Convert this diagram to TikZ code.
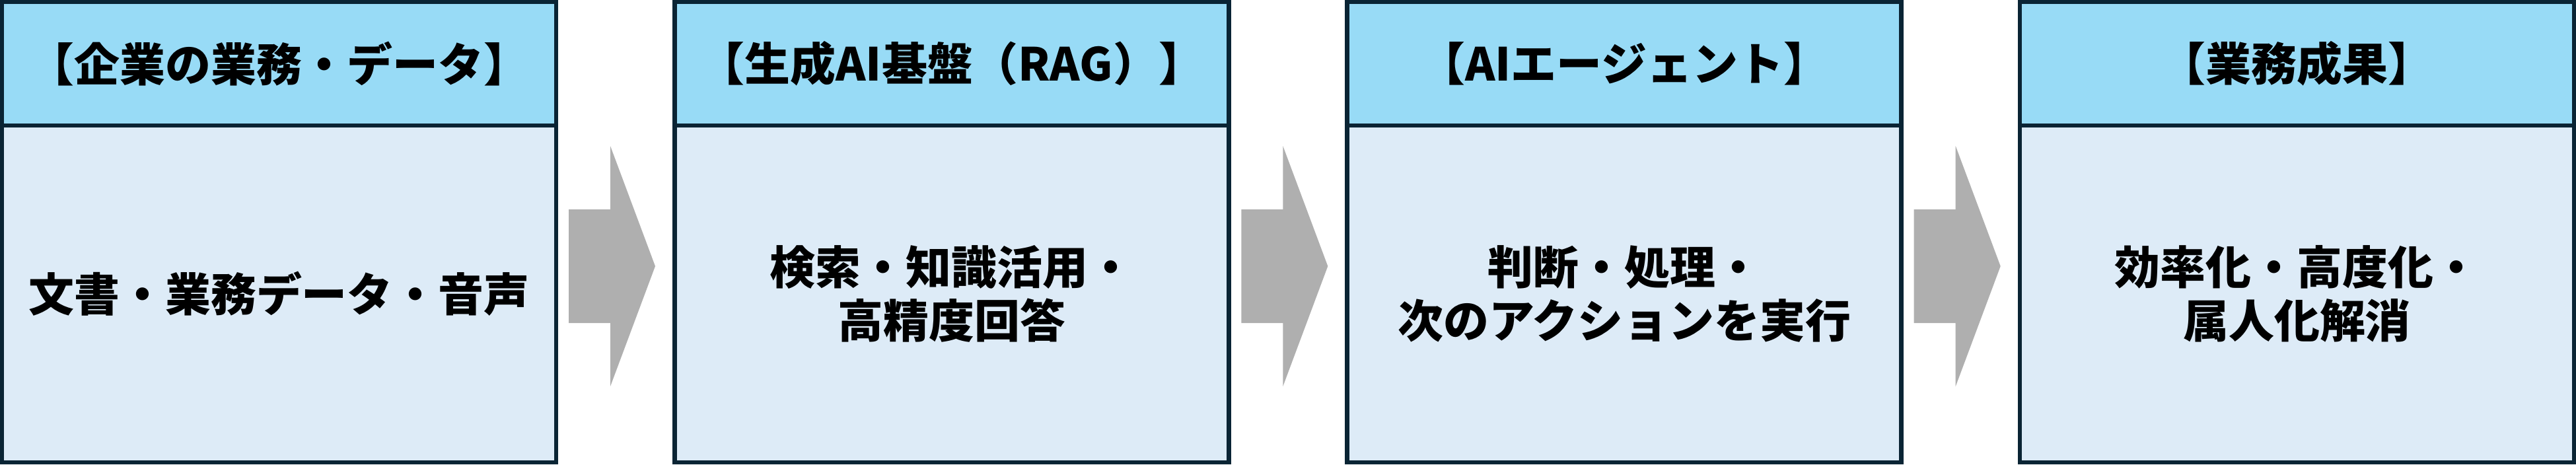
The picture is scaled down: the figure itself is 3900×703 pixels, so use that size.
\documentclass[tikz,border=0pt]{standalone}
\usepackage{fontspec}
\setmainfont{Noto Sans CJK JP}
\usepackage{tikz}
\usetikzlibrary{positioning}

\definecolor{headblue}{RGB}{152,219,246}
\definecolor{bodyblue}{RGB}{221,235,247}
\definecolor{frame}{RGB}{10,36,52}
\definecolor{arrowgray}{RGB}{175,175,175}

\begin{document}
\begin{tikzpicture}[
                x=0.01cm, y=-0.01cm,
                head/.style={rectangle, draw=frame, fill=headblue, line width=0.065cm,
                    outer sep=0pt, minimum width=8.385cm, minimum height=1.8675cm,
                    font=\bfseries\fontsize{19.6}{23}\selectfont},
                body/.style={head, fill=bodyblue, minimum height=5.0975cm, align=center},
                flow/.style={fill=arrowgray}
            ]
            \useasboundingbox (0,0) rectangle (3900,703);

            \node[head] (h1) at (422.5,96.6) {【企業の業務・データ】};
            \node[head] (h2) at (1440.8,96.6) {【生成AI基盤（RAG）】};
            \node[head] (h3) at (2459.2,96.6) {【AIエージェント】};
            \node[head] (h4) at (3477.5,96.6) {【業務成果】};

            \node[body, below=0pt of h1] (b1) {文書・業務データ・音声};
            \node[body, below=0pt of h2] (b2) {検索・知識活用・\\高精度回答};
            \node[body, below=0pt of h3] (b3) {判断・処理・\\次のアクションを実行};
            \node[body, below=0pt of h4] (b4) {効率化・高度化・\\属人化解消};

            % block arrows between the stages
            \foreach \r in {845, 1863.3, 2881.7}
                \fill[flow] ({\r+16},317) -- ({\r+79},317) -- ({\r+79},221) -- ({\r+147},403)
                    -- ({\r+79},585) -- ({\r+79},489) -- ({\r+16},489) -- cycle;
            \end{tikzpicture}
\end{document}
